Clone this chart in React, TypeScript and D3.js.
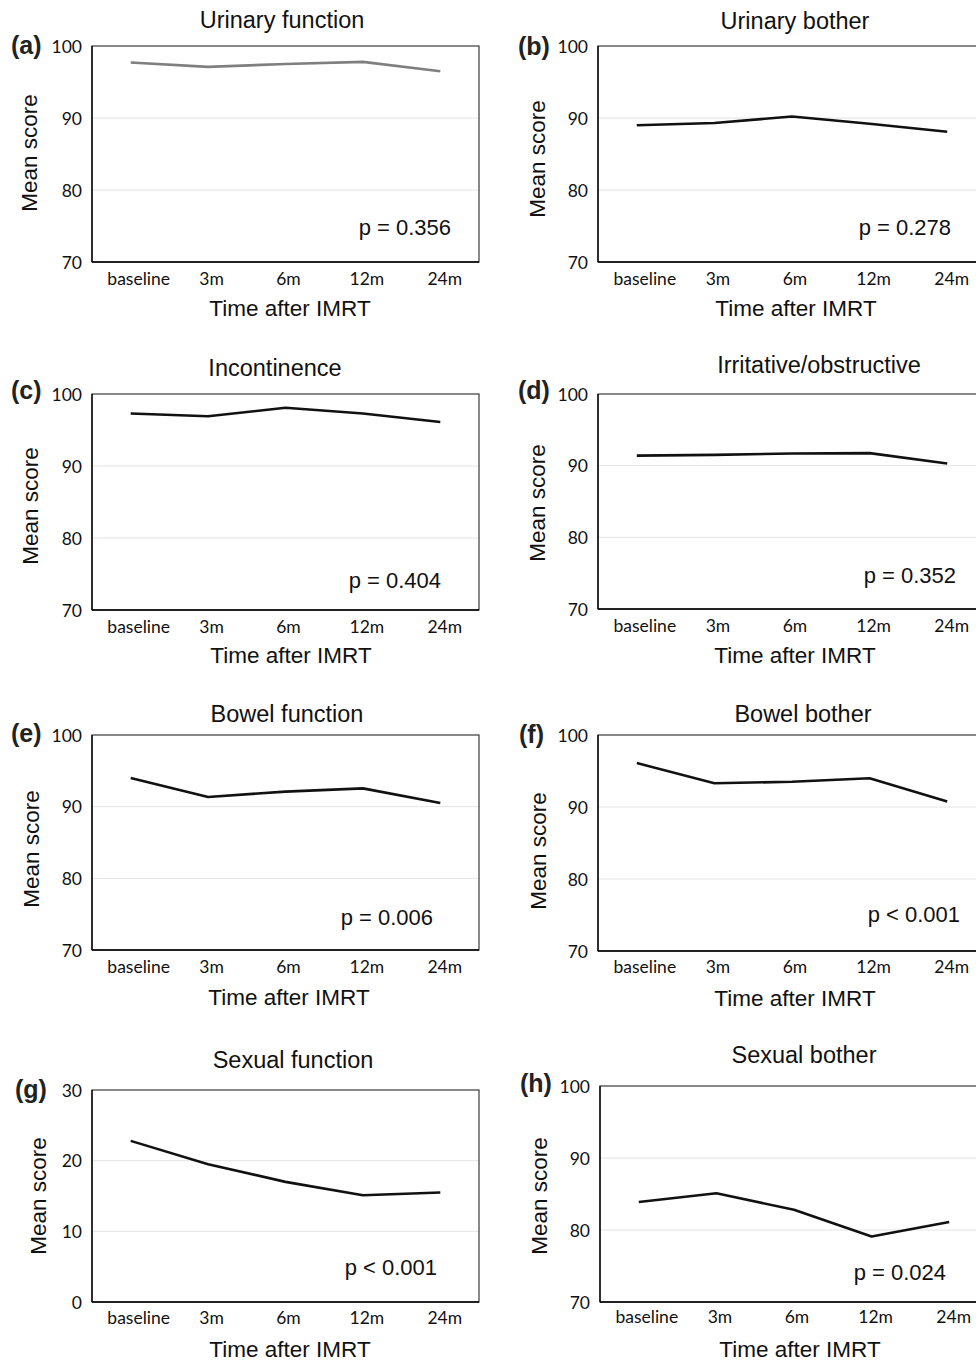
import React from "react";
import * as d3 from "d3";

const categories = ["baseline", "3m", "6m", "12m", "24m"];
const panelLetters = ["(a)", "(b)", "(c)", "(d)", "(e)", "(f)", "(g)", "(h)"];
const titles = [
  "Urinary function",
  "Urinary bother",
  "Incontinence",
  "Irritative/obstructive",
  "Bowel function",
  "Bowel bother",
  "Sexual function",
  "Sexual bother",
];
const pValues = ["p = 0.356", "p = 0.278", "p = 0.404", "p = 0.352", "p = 0.006", "p < 0.001", "p < 0.001", "p = 0.024"];

const urinaryFunction = [97.7, 97.1, 97.5, 97.8, 96.5];
const urinaryBother = [89.0, 89.3, 90.2, 89.2, 88.1];
const incontinence = [97.3, 96.9, 98.1, 97.3, 96.1];
const irritative = [91.4, 91.5, 91.7, 91.75, 90.3];
const bowelFunction = [94.0, 91.35, 92.1, 92.55, 90.5];
const bowelBother = [96.1, 93.3, 93.5, 94.0, 90.75];
const sexualFunction = [22.8, 19.5, 17.0, 15.1, 15.5];
const sexualBother = [83.9, 85.1, 82.8, 79.1, 81.1];

const seriesList = [urinaryFunction, urinaryBother, incontinence, irritative, bowelFunction, bowelBother, sexualFunction, sexualBother];

const domainHigh = [70, 100];
const domainLow = [0, 30];
const ticksHigh = [70, 80, 90, 100];
const ticksLow = [0, 10, 20, 30];
const domains = [domainHigh, domainHigh, domainHigh, domainHigh, domainHigh, domainHigh, domainLow, domainHigh];
const tickSets = [ticksHigh, ticksHigh, ticksHigh, ticksHigh, ticksHigh, ticksHigh, ticksLow, ticksHigh];

// Layout (positions only)
type Layout = {
  x0: number; y0: number; y1: number; w: number;
  title: [number, number]; label: [number, number]; ylab: [number, number];
  xlab: [number, number]; p: [number, number]; tick: number; color: string;
};
const layouts: Layout[] = [
  { x0: 92, y0: 46, y1: 262, w: 387, title: [282, 28], label: [11, 54], ylab: [37, 153], xlab: [290, 316], p: [451, 235], tick: 285, color: "#7f7f7f" },
  { x0: 598, y0: 46, y1: 262, w: 388, title: [795, 29], label: [518, 55], ylab: [545, 159], xlab: [796, 316], p: [951, 235], tick: 285, color: "#111" },
  { x0: 92, y0: 394, y1: 610, w: 387, title: [275, 376], label: [11, 399], ylab: [38, 506], xlab: [291, 663], p: [441, 588], tick: 633, color: "#111" },
  { x0: 598, y0: 394, y1: 609, w: 388, title: [819, 373], label: [518, 399], ylab: [545, 503], xlab: [795, 663], p: [956, 583], tick: 632, color: "#111" },
  { x0: 92, y0: 735, y1: 950, w: 387, title: [287, 722], label: [11, 742], ylab: [39, 849], xlab: [289, 1005], p: [433, 925], tick: 973, color: "#111" },
  { x0: 598, y0: 735, y1: 951, w: 388, title: [803, 722], label: [519, 743], ylab: [546, 851], xlab: [795, 1006], p: [960, 922], tick: 973, color: "#111" },
  { x0: 92, y0: 1090, y1: 1302, w: 387, title: [293, 1068], label: [15, 1098], ylab: [46, 1196], xlab: [290, 1357], p: [437, 1275], tick: 1324, color: "#111" },
  { x0: 600, y0: 1086, y1: 1302, w: 388, title: [804, 1063], label: [520, 1092], ylab: [547, 1196], xlab: [800, 1357], p: [946, 1280], tick: 1323, color: "#111" },
];
const labelShift = [8, 3.5, 3, 4, 4.5];

const sans = "'Liberation Sans', Arial, sans-serif";
const tickFont = "Lato, 'Open Sans', sans-serif";

function Panel({ i }: { i: number }) {
  const L = layouts[i];
  const x = d3.scaleBand<string>().domain(categories).range([L.x0, L.x0 + L.w]);
  const y = d3.scaleLinear().domain(domains[i]).range([L.y1, L.y0]);
  const line = d3
    .line<number>()
    .x((_, k) => (x(categories[k]) as number) + x.bandwidth() / 2)
    .y((v) => y(v));
  const ticks = tickSets[i];
  return (
    <g>
      {ticks.slice(1, -1).map((t) => (
        <line key={"g" + t} x1={L.x0} x2={L.x0 + L.w} y1={y(t)} y2={y(t)} stroke="#e4e4e4" strokeWidth={1} />
      ))}
      <rect x={L.x0} y={L.y0} width={L.w} height={L.y1 - L.y0} fill="none" stroke="#3a3a3a" strokeWidth={1.2} />
      <line x1={L.x0} x2={L.x0} y1={L.y0} y2={L.y1} stroke="#000" strokeWidth={1.3} />
      <line x1={L.x0} x2={L.x0 + L.w} y1={L.y1} y2={L.y1} stroke="#000" strokeWidth={1.3} />
      {ticks.map((t) => (
        <text key={"t" + t} x={L.x0 - 10} y={y(t) + 6.5} textAnchor="end" fontFamily={tickFont} fontSize={17.5} fill="#111">
          {t}
        </text>
      ))}
      {categories.map((c, k) => (
        <text key={c} x={(x(c) as number) + x.bandwidth() / 2 + labelShift[k]} y={L.tick} textAnchor="middle" fontFamily={tickFont} fontSize={17.5} fill="#111">
          {c}
        </text>
      ))}
      <path d={line(seriesList[i]) || ""} fill="none" stroke={L.color} strokeWidth={2.6} strokeLinejoin="round" />
      <text x={L.title[0]} y={L.title[1]} textAnchor="middle" fontFamily={sans} fontSize={23.5} fill="#111">
        {titles[i]}
      </text>
      <text x={L.label[0]} y={L.label[1]} fontFamily={sans} fontWeight="bold" fontSize={25} fill="#222">
        {panelLetters[i]}
      </text>
      <text transform={`translate(${L.ylab[0]},${L.ylab[1]}) rotate(-90)`} textAnchor="middle" fontFamily={sans} fontSize={22.5} fill="#111">
        Mean score
      </text>
      <text x={L.xlab[0]} y={L.xlab[1]} textAnchor="middle" fontFamily={sans} fontSize={22.5} fill="#111">
        Time after IMRT
      </text>
      <text x={L.p[0]} y={L.p[1]} textAnchor="end" fontFamily={sans} fontSize={22} fill="#111">
        {pValues[i]}
      </text>
    </g>
  );
}

export default function App() {
  return (
    <svg
      width={976}
      height={1361}
      viewBox="0 0 976 1361"
      style={{ position: "absolute", left: 0, top: 0, background: "#fff" }}
    >
      <rect x={0} y={0} width={976} height={1361} fill="#fff" />
      {layouts.map((_, i) => (
        <Panel key={i} i={i} />
      ))}
    </svg>
  );
}
